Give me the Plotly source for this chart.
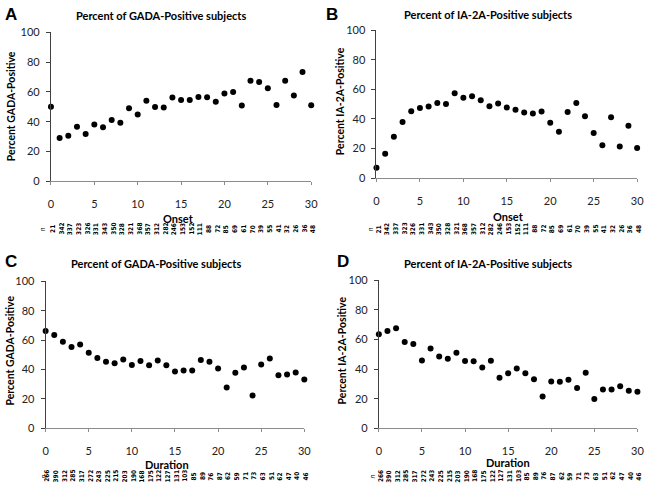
import plotly.graph_objects as go

# ---------------- data ----------------
years = list(range(31))

gada_onset = [50, 29, 30.5, 36.6, 31.8, 38.1, 36.2, 41.2, 39.2, 49, 44.9, 54, 49.9, 49.5, 56.2,
              54.5, 54.5, 56.6, 56.4, 53.4, 59, 59.9, 50.8, 67.5, 66.7, 62.5, 51.2, 67.5, 57.5, 73.4, 51]
ia2a_onset = [7, 16.5, 27.9, 38, 45.3, 47.5, 48.4, 50.8, 50.1, 57.4, 54.3, 55.4, 52.7, 48.6, 50.5,
              47.7, 46.2, 44.4, 43.7, 45.1, 37.4, 31.4, 44.8, 50.8, 41.8, 30.5, 22.2, 41.1, 21.3, 35.4, 20.4]
gada_duration = [66.2, 63.4, 58.9, 55.2, 57, 51.4, 47.7, 45.3, 44.2, 46.8, 43, 45.7, 42.8, 46.1, 42.8,
                 38.6, 39.3, 39.3, 46.4, 45.3, 40.6, 27.8, 37.7, 41.3, 22.3, 43.3, 47.5, 36, 36.6, 38, 33.1]
ia2a_duration = [63.6, 65.8, 67.5, 58.3, 57, 45.8, 53.9, 48.5, 46.9, 51.1, 45.4, 45.2, 41, 45.6, 34.2,
                 37.1, 40.4, 37.1, 33.1, 21.5, 31.6, 31.4, 32.7, 27.2, 37.5, 19.7, 26.1, 26.1, 28.3, 25.4, 24.6]

n_onset = [21, 342, 337, 323, 326, 331, 343, 350, 328, 321, 368, 357, 312, 282, 246, 153, 152, 111,
           88, 72, 85, 69, 61, 70, 39, 55, 41, 32, 26, 36, 48]
n_duration = [266, 390, 312, 285, 317, 272, 243, 225, 215, 203, 190, 168, 175, 122, 127, 131, 103, 85,
              89, 76, 87, 62, 59, 71, 73, 63, 51, 62, 47, 40, 46]

panel_letters = ["A", "B", "C", "D"]
panel_titles = ["Percent of GADA-Positive subjects", "Percent of IA-2A-Positive subjects",
                "Percent of GADA-Positive subjects", "Percent of IA-2A-Positive subjects"]
y_titles = ["Percent GADA-Positive", "Percent IA-2A-Positive",
            "Percent GADA-Positive", "Percent IA-2A-Positive"]
x_titles = ["Onset", "Onset", "Duration", "Duration"]

# ---------------- layout geometry (pixels) ----------------
W, H = 652, 491
def px(x): return x / W
def py(y): return 1 - y / H

panels = [
    dict(x0=48.7, x1=313, y0=26, y1=179, vals=gada_onset, n=n_onset,
         letter=(8, 8), title=(160, 9), ytitle=(8, 102), xtitle=(178, 217), nrow=228, nlab=40),
    dict(x0=379.3, x1=644, y0=24, y1=175.7, vals=ia2a_onset, n=n_onset,
         letter=(334, 8), title=(493, 8), ytitle=(343, 97), xtitle=(513, 215), nrow=228, nlab=373),
    dict(x0=43.3, x1=306, y0=281.7, y1=432.7, vals=gada_duration, n=n_duration,
         letter=(8, 261), title=(155, 263), ytitle=(7, 353), xtitle=(167, 470), nrow=482, nlab=41),
    dict(x0=381.7, x1=644.3, y0=280.7, y1=432.7, vals=ia2a_duration, n=n_duration,
         letter=(345, 261), title=(493, 263), ytitle=(344, 353), xtitle=(513, 468), nrow=482, nlab=375),
]

FONT = "Lato"
fig = go.Figure()
annotations = []
layout = dict(width=W, height=H, margin=dict(l=0, r=0, t=0, b=0),
              plot_bgcolor="white", paper_bgcolor="white", showlegend=False,
              font=dict(family=FONT, color="#222222"))

for i, p in enumerate(panels):
    k = "" if i == 0 else str(i + 1)
    fig.add_trace(go.Scatter(x=years, y=p["vals"], mode="markers",
                             marker=dict(color="black", size=6),
                             xaxis="x" + k, yaxis="y" + k, cliponaxis=False))
    layout["xaxis" + k] = dict(domain=[px(p["x0"]), px(p["x1"])], range=[0, 30], dtick=5,
                               anchor="y" + k, showline=True, linecolor="#8c8c8c", linewidth=1,
                               ticks="outside", ticklen=3, tickcolor="#8c8c8c",
                               showgrid=False, zeroline=False, ticklabelstandoff=10,
                               ticklabeloverflow="allow",
                               tickfont=dict(size=11, family=FONT, color="#222222"))
    layout["yaxis" + k] = dict(domain=[py(p["y1"]), py(p["y0"])], range=[0, 100], dtick=20,
                               anchor="x" + k, showline=True, linecolor="#404040", linewidth=1,
                               ticks="outside", ticklen=4, tickcolor="#404040",
                               showgrid=False, zeroline=False, ticklabelstandoff=4,
                               ticklabeloverflow="allow",
                               tickfont=dict(size=11, family=FONT, color="#222222"))
    annotations.append(dict(text="<b>%s</b>" % panel_letters[i], x=px(p["letter"][0]), y=py(p["letter"][1]),
                            xref="paper", yref="paper", showarrow=False, xanchor="center", yanchor="middle",
                            font=dict(family="Liberation Sans", size=17, color="black")))
    annotations.append(dict(text="<b>%s</b>" % panel_titles[i], x=px(p["title"][0]), y=py(p["title"][1]),
                            xref="paper", yref="paper", showarrow=False, xanchor="center", yanchor="middle",
                            font=dict(family=FONT, size=11, color="black")))
    annotations.append(dict(text="<b>%s</b>" % y_titles[i], x=px(p["ytitle"][0]), y=py(p["ytitle"][1]),
                            xref="paper", yref="paper", showarrow=False, xanchor="center", yanchor="middle",
                            textangle=-90, font=dict(family=FONT, size=10.5, color="black")))
    annotations.append(dict(text="<b>%s</b>" % x_titles[i], x=px(p["xtitle"][0]), y=py(p["xtitle"][1]),
                            xref="paper", yref="paper", showarrow=False, xanchor="center", yanchor="middle",
                            font=dict(family=FONT, size=11, color="black")))
    annotations.append(dict(text="<i>n</i>", x=px(p["nlab"]), y=py(p["nrow"]),
                            xref="paper", yref="paper", showarrow=False, xanchor="center", yanchor="middle",
                            textangle=-90, font=dict(family=FONT, size=7, color="black")))
    for j, v in enumerate(p["n"]):
        annotations.append(dict(text="<b>%d</b>" % v, x=years[j], y=py(p["nrow"]),
                                xref="x" + k, yref="paper", showarrow=False,
                                xanchor="center", yanchor="middle", textangle=-90, xshift=2,
                                font=dict(family="DejaVu Sans Condensed", size=6.5, color="black")))

layout["annotations"] = annotations
fig.update_layout(**layout)
fig.write_html("out.html", config={"displayModeBar": False},
               post_script="document.body.style.margin='0';document.body.style.overflow='hidden';")
